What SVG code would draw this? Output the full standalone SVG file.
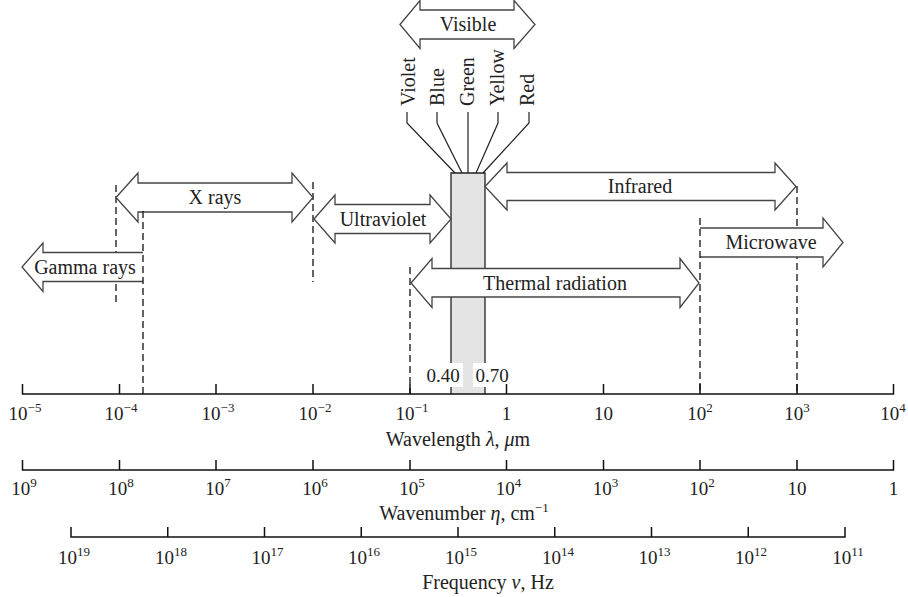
<svg xmlns="http://www.w3.org/2000/svg" width="908" height="597" viewBox="0 0 908 597">
<style>
text{font-family:"Liberation Serif","Times New Roman",serif;fill:#222}
.lbl{font-size:20px;text-anchor:middle}
.tk{font-size:19px;text-anchor:middle}
.sup{font-size:13px}
.arrow{fill:#fff;stroke:#444;stroke-width:1.3;stroke-linejoin:miter}
.dash{stroke:#111;stroke-width:1.3;stroke-dasharray:7 4;fill:none}
.axis{stroke:#111;stroke-width:1.5;fill:none}
.lead{stroke:#222;stroke-width:1.2;fill:none}
</style>
<rect width="908" height="597" fill="#fff"/>
<g id="connectors">
<line class="dash" x1="116" y1="185" x2="116" y2="306"/>
<line class="dash" x1="313" y1="182" x2="313" y2="282"/>
<line class="dash" x1="410" y1="267" x2="410" y2="394"/>
<line class="dash" x1="797" y1="186" x2="797" y2="394"/>
<polyline class="lead" points="407,112 407,123 455,173"/>
<polyline class="lead" points="437,112 437,123 462,173"/>
<polyline class="lead" points="468,112 468,173"/>
<polyline class="lead" points="498,112 498,123 476,173"/>
<polyline class="lead" points="529,112 529,123 483,173"/>
</g>
<g id="visible-band">
<rect x="451" y="173" width="34" height="221" fill="#e4e4e4"/>
<polyline points="451,394 451,173 485,173 485,394" fill="none" stroke="#222" stroke-width="1.3"/>
<rect x="423" y="363" width="40" height="24" fill="#fff"/>
<rect x="473" y="363" width="38" height="24" fill="#fff"/>
<text class="tk" x="443" y="382">0.40</text>
<text class="tk" x="492" y="382">0.70</text>
</g>
<g id="visible">
<polygon class="arrow" points="400,24.5 420,0.5 420,10 514,10 514,0.5 535,24.5 514,48.5 514,39 420,39 420,48.5"/>
<text class="lbl" x="468" y="31">Visible</text>
</g>
<g id="colors">
<text font-size="20" transform="translate(415,106) rotate(-90)">Violet</text>
<text font-size="20" transform="translate(443.5,106) rotate(-90)">Blue</text>
<text font-size="20" transform="translate(473.5,106) rotate(-90)">Green</text>
<text font-size="20" transform="translate(503.5,106) rotate(-90)">Yellow</text>
<text font-size="20" transform="translate(533.5,106) rotate(-90)">Red</text>
</g>
<g id="xrays">
<polygon class="arrow" points="116,197.5 138,173 138,183 292,183 292,173 313,197.5 292,222 292,212 138,212 138,222"/>
<text class="lbl" x="215" y="204">X rays</text>
</g>
<g id="ultraviolet">
<polygon class="arrow" points="314,219 335,195 335,204.5 430,204.5 430,195 451,219 430,243 430,233.5 335,233.5 335,243"/>
<text class="lbl" x="383" y="226">Ultraviolet</text>
</g>
<g id="infrared">
<polygon class="arrow" points="485,186.5 507,163 507,172.5 775,172.5 775,163 796,186.5 775,210 775,200.5 507,200.5 507,210"/>
<text class="lbl" x="640" y="193">Infrared</text>
</g>
<g id="thermal">
<polygon class="arrow" points="411,283 432,258.5 432,268.5 680,268.5 680,258.5 699,283 680,307.5 680,297 432,297 432,307.5"/>
<text class="lbl" x="555" y="290">Thermal radiation</text>
</g>
<g id="gamma">
<path class="arrow" d="M143,252.5 L43,252.5 L43,243 L22,267 L43,291.5 L43,281.5 L143,281.5"/>
<text class="lbl" x="85" y="274">Gamma rays</text>
</g>
<g id="microwave">
<path class="arrow" d="M700,228 L823,228 L823,218 L843,242.5 L823,267 L823,257 L700,257"/>
<text class="lbl" x="771" y="249">Microwave</text>
</g>
<g id="connectors-top">
<line class="dash" x1="143" y1="211" x2="143" y2="394"/>
<line class="dash" x1="700" y1="218" x2="700" y2="394"/>
</g>
<g id="wavelength-axis">
<path class="axis" d="M22.5,384 V394 H893.5 V384 M119.5,384 V394 M216,384 V394 M313,384 V394 M410,384 V394 M506.5,384 V394 M603.5,384 V394 M700,384 V394 M797,384 V394"/>
<text class="tk" x="25" y="420">10<tspan class="sup" dy="-8">−5</tspan></text>
<text class="tk" x="121" y="420">10<tspan class="sup" dy="-8">−4</tspan></text>
<text class="tk" x="218" y="420">10<tspan class="sup" dy="-8">−3</tspan></text>
<text class="tk" x="315" y="420">10<tspan class="sup" dy="-8">−2</tspan></text>
<text class="tk" x="412" y="420">10<tspan class="sup" dy="-8">−1</tspan></text>
<text class="tk" x="506.5" y="420">1</text>
<text class="tk" x="603.5" y="420">10</text>
<text class="tk" x="700" y="420">10<tspan class="sup" dy="-8">2</tspan></text>
<text class="tk" x="797" y="420">10<tspan class="sup" dy="-8">3</tspan></text>
<text class="tk" x="893" y="420">10<tspan class="sup" dy="-8">4</tspan></text>
<text class="lbl" x="458" y="446">Wavelength <tspan font-style="italic">λ</tspan>, <tspan font-style="italic">μ</tspan>m</text>
</g>
<g id="wavenumber-axis">
<path class="axis" d="M22.5,460 V470 H893.5 V460 M119.5,460 V470 M216,460 V470 M313,460 V470 M410,460 V470 M506.5,460 V470 M603.5,460 V470 M700,460 V470 M797,460 V470"/>
<text class="tk" x="24" y="495">10<tspan class="sup" dy="-8">9</tspan></text>
<text class="tk" x="121" y="495">10<tspan class="sup" dy="-8">8</tspan></text>
<text class="tk" x="218" y="495">10<tspan class="sup" dy="-8">7</tspan></text>
<text class="tk" x="315" y="495">10<tspan class="sup" dy="-8">6</tspan></text>
<text class="tk" x="412" y="495">10<tspan class="sup" dy="-8">5</tspan></text>
<text class="tk" x="508.5" y="495">10<tspan class="sup" dy="-8">4</tspan></text>
<text class="tk" x="605.5" y="495">10<tspan class="sup" dy="-8">3</tspan></text>
<text class="tk" x="702" y="495">10<tspan class="sup" dy="-8">2</tspan></text>
<text class="tk" x="797" y="495">10</text>
<text class="tk" x="893.5" y="495">1</text>
<text class="lbl" x="464" y="520">Wavenumber <tspan font-style="italic">η</tspan>, cm<tspan class="sup" dy="-8">−1</tspan></text>
</g>
<g id="frequency-axis">
<path class="axis" d="M71,527 V537 H845 V527 M167.75,527 V537 M264.5,527 V537 M361.25,527 V537 M458,527 V537 M554.75,527 V537 M651.5,527 V537 M748.25,527 V537"/>
<text class="tk" x="74" y="564">10<tspan class="sup" dy="-8">19</tspan></text>
<text class="tk" x="171" y="564">10<tspan class="sup" dy="-8">18</tspan></text>
<text class="tk" x="267.5" y="564">10<tspan class="sup" dy="-8">17</tspan></text>
<text class="tk" x="364" y="564">10<tspan class="sup" dy="-8">16</tspan></text>
<text class="tk" x="461" y="564">10<tspan class="sup" dy="-8">15</tspan></text>
<text class="tk" x="558" y="564">10<tspan class="sup" dy="-8">14</tspan></text>
<text class="tk" x="654.5" y="564">10<tspan class="sup" dy="-8">13</tspan></text>
<text class="tk" x="751" y="564">10<tspan class="sup" dy="-8">12</tspan></text>
<text class="tk" x="848" y="564">10<tspan class="sup" dy="-8">11</tspan></text>
<text class="lbl" x="488" y="589">Frequency <tspan font-style="italic">ν</tspan>, Hz</text>
</g>
</svg>
